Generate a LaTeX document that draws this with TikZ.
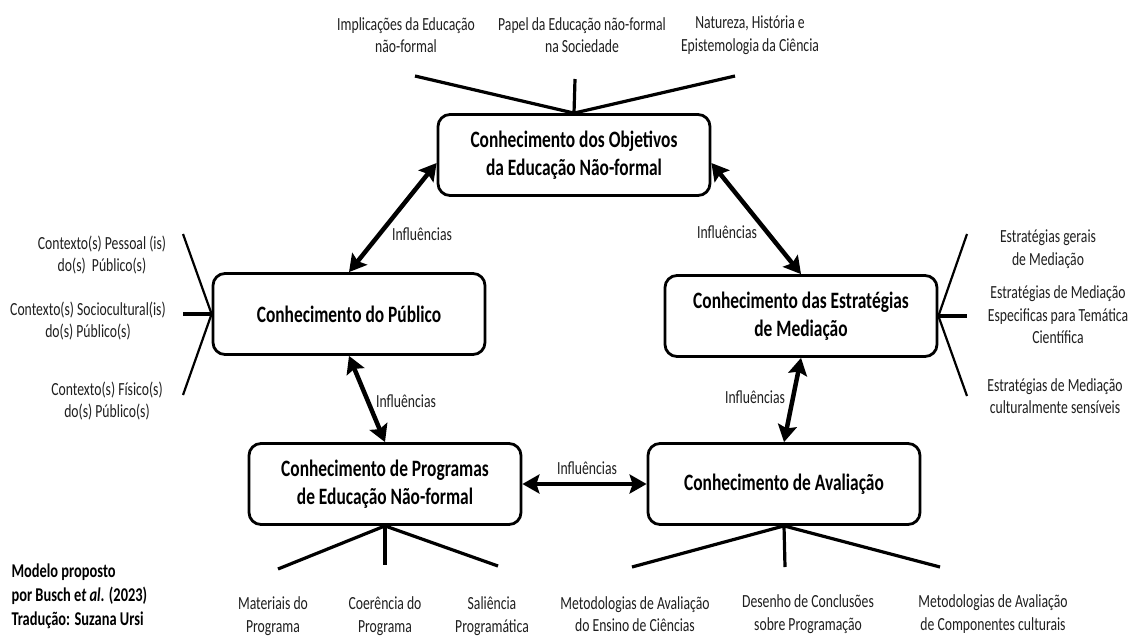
\documentclass[tikz,border=0pt]{standalone}
\usepackage{fontspec}
\setmainfont{Carlito}[FakeStretch=0.74]
\usetikzlibrary{arrows.meta}

\tikzset{
  box/.style={draw, line width=2.8pt, rounded corners=12pt, minimum width=272pt, minimum height=81pt, align=center, font=\bfseries\fontsize{23.5}{28}\selectfont},
  lbl/.style={align=center, text=black!88, font=\fontsize{18.5}{22.5}\selectfont},
  spoke/.style={line width=3.2pt},
  thinspoke/.style={line width=2.2pt},
  infl/.style={{Stealth[length=17pt,width=19pt,inset=3pt]}-{Stealth[length=17pt,width=19pt,inset=3pt]}, line width=4.5pt}
}

\begin{document}
\begin{tikzpicture}[x=1pt,y=-1pt]
            \useasboundingbox[fill=white] (0,0) rectangle (1137,637);
            % boxes
            \node[box] (obj) at (574,155) {Conhecimento dos Objetivos\\da Educação Não-formal};
            \node[box] (pub) at (349,314) {Conhecimento do Público};
            \node[box] (est) at (801,316) {Conhecimento das Estratégias\\de Mediação};
            \node[box] (prog) at (385,484) {Conhecimento de Programas\\de Educação Não-formal};
            \node[box] (aval) at (784,484) {Conhecimento de Avaliação};
            % influences
            \draw[infl] ([yshift=-8pt]obj.west)--(pub.north);
            \draw[infl] ([yshift=-8pt]obj.east)--(est.north);
            \draw[infl] (pub.south)--(prog.north);
            \draw[infl] (est.south)--(aval.north);
            \draw[infl] (prog.east)--(aval.west);
            \node[lbl] (i1) at (422,234) {Influências};
            \node[lbl] (i2) at (727,232) {Influências};
            \node[lbl] (i3) at (406,401) {Influências};
            \node[lbl] (i4) at (755,397) {Influências};
            \node[lbl] (i5) at (587,468) {Influências};
            % spokes top
            \coordinate (t1) at (415,76);
            \coordinate (t2) at (575,79);
            \coordinate (t3) at (735,76);
            \draw[spoke] (t1)--(obj.north)--(t3);
            \draw[spoke] (obj.north)--(t2);
            \node[lbl] (l1) at (406,35) {Implicações da Educação\\não-formal};
            \node[lbl] (l2) at (582,35) {Papel da Educação não-formal\\na Sociedade};
            \node[lbl] (l3) at (750,35) {Natureza, História e\\Epistemologia da Ciência};
            % spokes left
            \coordinate (p1) at (183,234);
            \coordinate (p2) at (183,314);
            \coordinate (p3) at (183,395);
            \draw[thinspoke] (p1)--(pub.west)--(p3);
            \draw[spoke] (pub.west)--(p2);
            \node[lbl] (l4) at (102,255) {Contexto(s) Pessoal (is)\\do(s)~ Público(s)};
            \node[lbl] (l5) at (88,321) {Contexto(s) Sociocultural(is)\\do(s) Público(s)};
            \node[lbl] (l6) at (107,401) {Contexto(s) Físico(s)\\do(s) Público(s)};
            % spokes right
            \coordinate (e1) at (967,234);
            \coordinate (e2) at (967,316);
            \coordinate (e3) at (967,396);
            \draw[thinspoke] (e1)--(est.east)--(e3);
            \draw[spoke] (est.east)--(e2);
            \node[lbl] (l7) at (1048,249) {Estratégias gerais\\de Mediação};
            \node[lbl] (l8) at (1058,315) {Estratégias de Mediação\\Especificas para Temática\\Científica};
            \node[lbl] (l9) at (1055,396) {Estratégias de Mediação\\culturalmente sensíveis};
            % spokes bottom
            \coordinate (g1) at (278,569);
            \coordinate (g2) at (385,565);
            \coordinate (g3) at (498,566);
            \draw[spoke] (g1)--(prog.south)--(g3);
            \draw[spoke] (prog.south)--(g2);
            \coordinate (a1) at (632,567);
            \coordinate (a2) at (785,567);
            \coordinate (a3) at (940,567);
            \draw[spoke] (a1)--(aval.south)--(a3);
            \draw[spoke] (aval.south)--(a2);
            \node[lbl] (l10) at (273,616) {Materiais do\\Programa};
            \node[lbl] (l11) at (385,616) {Coerência do\\Programa};
            \node[lbl] (l12) at (492,616) {Saliência\\Programática};
            \node[lbl] (l13) at (635,614) {Metodologias de Avaliação\\do Ensino de Ciências};
            \node[lbl] (l14) at (808,614) {Desenho de Conclusões\\sobre Programação};
            \node[lbl] (l15) at (993,614) {Metodologias de Avaliação\\de Componentes culturais};
            % credit
            \node[anchor=west, align=left, font=\bfseries\fontsize{19.5}{24}\selectfont] (cred) at (8,596) {Modelo proposto\\por Busch e\textit{t al.} (2023)\\Tradução: Suzana Ursi};
        \end{tikzpicture}
\end{document}
